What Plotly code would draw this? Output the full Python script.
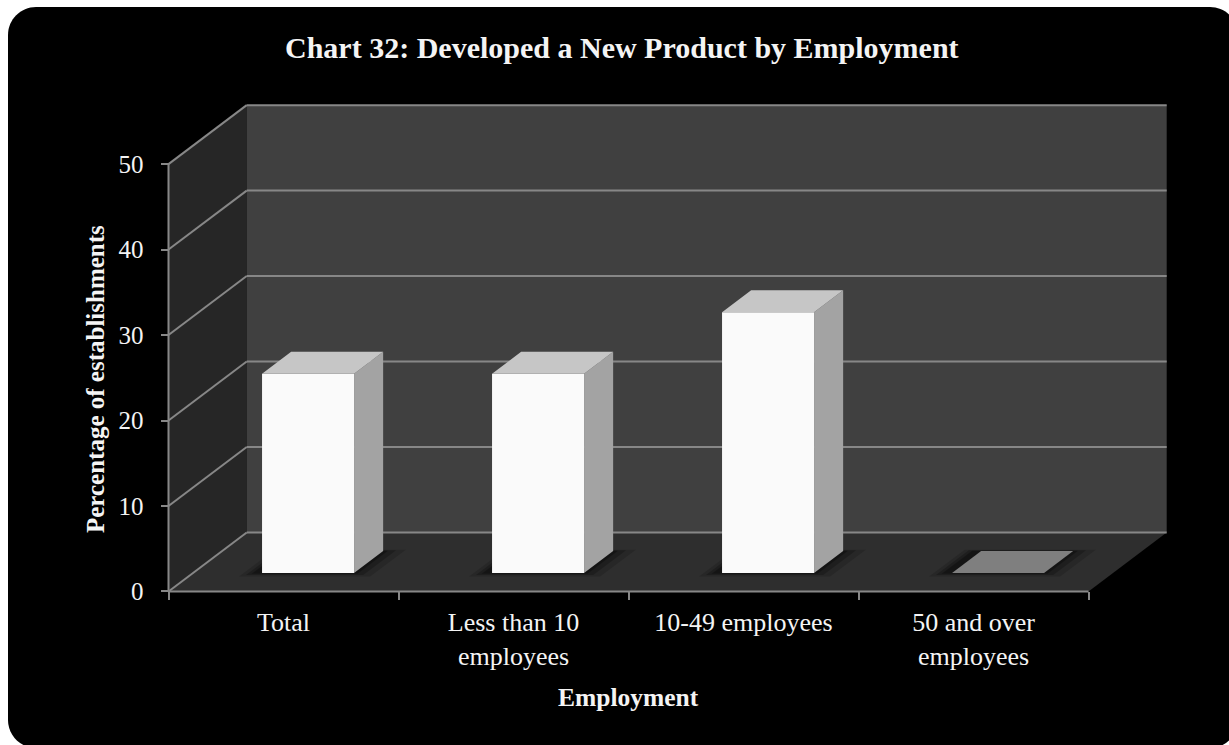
import plotly.graph_objects as go

# ---- data -------------------------------------------------------------
categories = ["Total", "Less than 10<br>employees", "10-49 employees", "50 and over<br>employees"]
values = [23.3, 23.3, 30.5, 0.0]
y_ticks = [0, 10, 20, 30, 40, 50]

title_text = "Chart 32: Developed a New Product by Employment"
y_title = "Percentage of establishments"
x_title = "Employment"

# ---- 3-D box geometry (axis units) -------------------------------------
N = len(categories)
Y_MAX = 50
DX, DY = 0.34, 6.9          # depth offset of the back plane
BAR_W = 0.4                 # bar width as a fraction of a category slot
F_FRONT = 0.314             # depth position of bar front faces
F_DEPTH = 0.372             # bar depth as a fraction of the floor depth

W, H = 1229, 745
ML, MR, MT, MB = 157, 60, 100, 145
X_RANGE = [-0.05, N + DX + 0.01]
Y_RANGE = [-1, 57.5]
PW, PH = W - ML - MR, H - MT - MB

GRID = "#878787"
TXT = "#f4f4f4"
FONT = "Liberation Serif, Times New Roman, serif"


def px_to_paper(px, py):
    return (px - ML) / PW, 1 - (py - MT) / PH


def path_of(xs, ys):
    pts = [f"{x:.5f},{y:.5f}" for x, y in zip(xs, ys)]
    return "M " + " L ".join(pts) + " Z"


def add_poly(fig, xs, ys, color):
    fig.add_shape(type="path", path=path_of(xs, ys), xref="x", yref="y",
                  fillcolor=color, line=dict(width=0), layer="below")


def add_line(fig, x0, y0, x1, y1, color=GRID, width=2):
    fig.add_shape(type="line", x0=x0, y0=y0, x1=x1, y1=y1, xref="x", yref="y",
                  line=dict(color=color, width=width), layer="below")


def face(xs, ys, color):
    return go.Scatter(
        x=xs, y=ys, mode="lines", fill="toself", fillcolor=color,
        line=dict(width=0, color=color), hoverinfo="skip", showlegend=False,
    )


fig = go.Figure()

# walls and floor
add_poly(fig, [0, DX, DX, 0], [0, DY, Y_MAX + DY, Y_MAX], "#262626")
add_poly(fig, [DX, N + DX, N + DX, DX], [DY, DY, Y_MAX + DY, Y_MAX + DY], "#404040")
add_poly(fig, [0, N, N + DX, DX], [0, 0, DY, DY], "#2e2e2e")

# gridlines on the side wall and back wall
for v in y_ticks:
    add_line(fig, 0, v, DX, v + DY)
    add_line(fig, DX, v + DY, N + DX, v + DY)

# front edges (value axis line and floor front edge)
add_line(fig, 0, 0, 0, Y_MAX)
add_line(fig, 0, 0, N, 0)

# soft shadows on the floor around each bar footprint
centers = [i + 0.5 for i in range(N)]
for spread, alpha in [(0.07, 0.15), (0.04, 0.22), (0.015, 0.3)]:
    for c in centers:
        x0 = c - BAR_W / 2 + F_FRONT * DX - spread - 0.03
        x1 = c + BAR_W / 2 + F_FRONT * DX + spread
        y0 = F_FRONT * DY - spread * 6
        d = F_DEPTH + spread * 1.2
        add_poly(fig, [x0, x1, x1 + d * DX, x0 + d * DX],
                 [y0, y0, y0 + d * DY, y0 + d * DY], f"rgba(0,0,0,{alpha})")

# bar front faces
fig.add_trace(go.Bar(
    x=centers, y=values, base=[F_FRONT * DY] * N, width=BAR_W,
    offset=F_FRONT * DX - BAR_W / 2,
    marker=dict(color="#fafafa", line=dict(width=0)),
    hoverinfo="skip", showlegend=False,
))

# bar side and top faces, drawn from the values
side_x, side_y, top_x, top_y, flat_x, flat_y = [], [], [], [], [], []
for c, v in zip(centers, values):
    base = F_FRONT * DY
    top = base + v
    xl = c - BAR_W / 2 + F_FRONT * DX
    xr = xl + BAR_W
    ddx, ddy = F_DEPTH * DX, F_DEPTH * DY
    face_x = [xl, xr, xr + ddx, xl + ddx, xl, None]
    face_y = [top, top, top + ddy, top + ddy, top, None]
    if v > 0:
        side_x += [xr, xr, xr + ddx, xr + ddx, xr, None]
        side_y += [base, top, top + ddy, base + ddy, base, None]
        top_x += face_x
        top_y += face_y
    else:
        flat_x += face_x
        flat_y += face_y

fig.add_trace(face(side_x, side_y, "#a3a3a3"))
fig.add_trace(face(top_x, top_y, "#c6c6c6"))
fig.add_trace(face(flat_x, flat_y, "#7f7f7f"))

# background card with rounded corners
L, T, R, B, RAD = 8, 7, 1238, 748, 28
k = 0.5523 * RAD


def P(px, py):
    x, y = px_to_paper(px, py)
    return f"{x:.5f},{y:.5f}"


card = (
    f"M {P(L + RAD, T)} L {P(R - RAD, T)} C {P(R - RAD + k, T)} {P(R, T + RAD - k)} {P(R, T + RAD)} "
    f"L {P(R, B - RAD)} C {P(R, B - RAD + k)} {P(R - RAD + k, B)} {P(R - RAD, B)} "
    f"L {P(L + RAD, B)} C {P(L + RAD - k, B)} {P(L, B - RAD + k)} {P(L, B - RAD)} "
    f"L {P(L, T + RAD)} C {P(L, T + RAD - k)} {P(L + RAD - k, T)} {P(L + RAD, T)} Z"
)
fig.add_shape(type="path", path=card, xref="paper", yref="paper",
              fillcolor="#000000", line=dict(width=0), layer="below")

# titles
ax, ay = px_to_paper(622, 48)
fig.add_annotation(text=f"<b>{title_text}</b>", x=ax, y=ay, xref="paper", yref="paper",
                   xanchor="center", yanchor="middle", showarrow=False,
                   font=dict(family=FONT, size=30, color=TXT))
ax, ay = px_to_paper(95, 379)
fig.add_annotation(text=f"<b>{y_title}</b>", x=ax, y=ay, xref="paper", yref="paper",
                   xanchor="center", yanchor="middle", textangle=-90, showarrow=False,
                   font=dict(family=FONT, size=25, color=TXT))
ax, ay = px_to_paper(628, 697)
fig.add_annotation(text=f"<b>{x_title}</b>", x=ax, y=ay, xref="paper", yref="paper",
                   xanchor="center", yanchor="middle", showarrow=False,
                   font=dict(family=FONT, size=25.5, color=TXT))

x_pos = (0 - X_RANGE[0]) / (X_RANGE[1] - X_RANGE[0])
y_pos = (0 - Y_RANGE[0]) / (Y_RANGE[1] - Y_RANGE[0])

fig.update_layout(
    width=W, height=H,
    margin=dict(l=ML, r=MR, t=MT, b=MB, autoexpand=False),
    paper_bgcolor="#ffffff", plot_bgcolor="#000000",
    showlegend=False,
    xaxis=dict(
        range=X_RANGE, anchor="free", position=y_pos,
        tickvals=centers, ticktext=categories, ticks="",
        showgrid=False, zeroline=False, showline=False,
        tickfont=dict(family=FONT, size=26, color=TXT),
        ticklabelstandoff=13,
        minor=dict(tickvals=list(range(N + 1)), ticks="outside", ticklen=8,
                   tickwidth=2, tickcolor=GRID, showgrid=False),
        fixedrange=True,
    ),
    yaxis=dict(
        range=Y_RANGE, anchor="free", position=x_pos,
        tickvals=y_ticks, ticks="outside", ticklen=8, tickwidth=2, tickcolor=GRID,
        showgrid=False, zeroline=False, showline=False,
        tickfont=dict(family=FONT, size=25, color=TXT),
        ticklabelstandoff=12,
        fixedrange=True,
    ),
)

fig.write_html("out.html")
